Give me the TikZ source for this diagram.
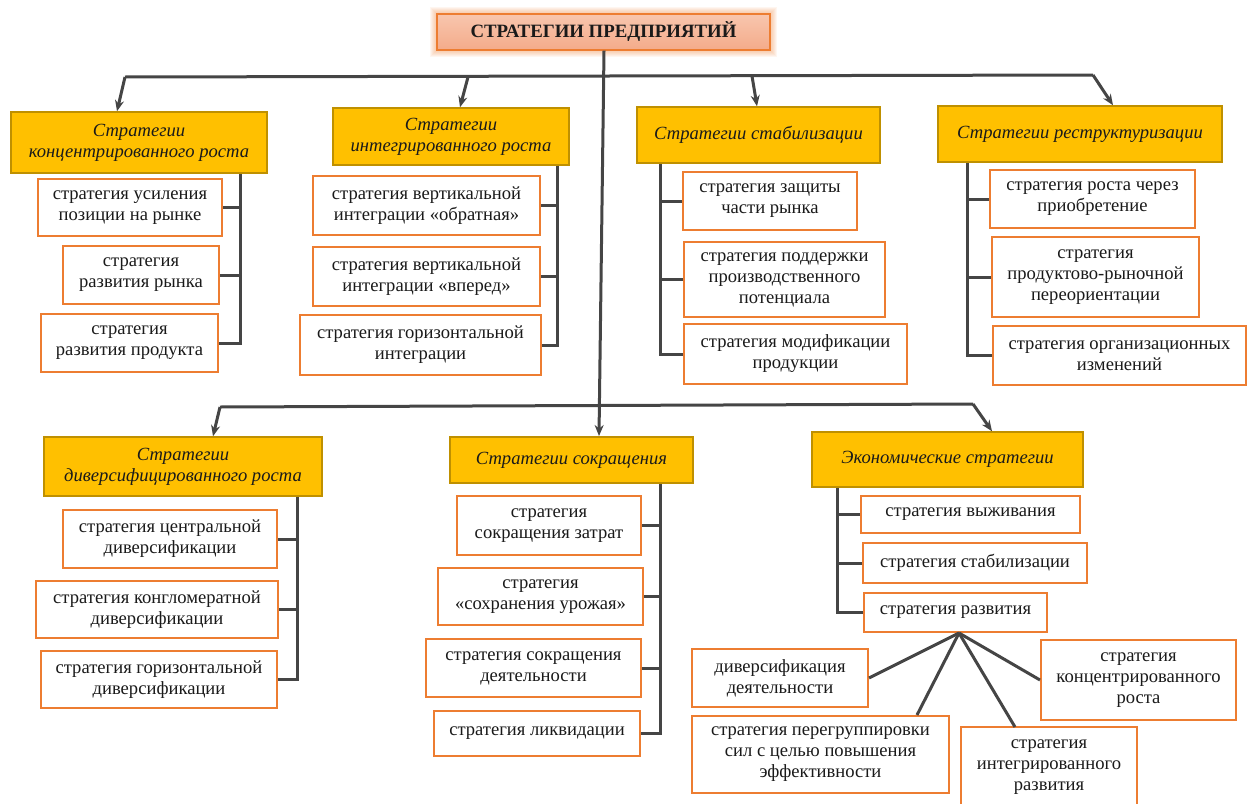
\documentclass[tikz,border=0pt]{standalone}
\usepackage{fontspec}
\setmainfont{Liberation Serif}
\usetikzlibrary{arrows.meta}
\definecolor{hdr}{HTML}{FFC000}
\definecolor{hdrb}{HTML}{BF9000}
\definecolor{orb}{HTML}{ED7D31}
\definecolor{ln}{HTML}{454545}
\definecolor{ttop}{HTML}{F8C6AE}
\definecolor{tbot}{HTML}{F4AB8A}
\definecolor{txt}{HTML}{1A1A1A}
\newcommand\bx[7]{\node[#6, minimum width={#4-#2}, minimum height={#5-#3}] (#1) at ({(#2+#4)/2},{(#3+#5)/2}) {#7};}
\begin{document}
\begin{tikzpicture}[x=1pt,y=-1pt,
  hdrbox/.style={draw=hdrb, fill=hdr, line width=1.5pt, align=center, inner sep=0pt, text=txt, font=\fontsize{18.6}{21}\selectfont\itshape},
  chbox/.style={draw=orb, fill=white, line width=2pt, align=center, inner sep=0pt, text=txt, font=\fontsize{18.6}{21}\selectfont},
  titlebox/.style={draw=orb, line width=1.2pt, top color=ttop, bottom color=tbot, align=center, inner sep=0pt, text=txt, font=\fontsize{18.8}{21}\selectfont\bfseries},
  conn/.style={draw=ln, line width=3pt},
  arr/.style={conn, -{Stealth[length=11pt,width=9pt]}}]
\useasboundingbox (0,0) rectangle (1247,803);
% glow
\foreach \i in {1,...,7}{
  \fill[orb, opacity=0.07] (437-\i,14-\i) rectangle (770+\i,50+\i);
}
\bx{title}{437}{14}{770}{50}{titlebox}{СТРАТЕГИИ ПРЕДПРИЯТИЙ}

% headers top row
\bx{h1}{11}{112}{267}{173}{hdrbox}{Стратегии\\концентрированного роста}
\bx{h2}{333}{108}{569}{165}{hdrbox}{Стратегии\\интегрированного роста}
\bx{h3}{637}{107}{880}{163}{hdrbox}{Стратегии стабилизации}
\bx{h4}{938}{106}{1222}{162}{hdrbox}{Стратегии реструктуризации}
% headers bottom row
\bx{h5}{44}{437}{322}{496}{hdrbox}{Стратегии\\диверсифицированного роста}
\bx{h6}{450}{437}{693}{483}{hdrbox}{Стратегии сокращения}
\bx{h7}{812}{432}{1083}{487}{hdrbox}{Экономические стратегии}

% group 1
\bx{c11}{38}{179}{222}{236}{chbox}{стратегия усиления\\позиции на рынке}
\bx{c12}{63}{246}{219}{304}{chbox}{стратегия\\развития рынка}
\bx{c13}{41}{314}{218}{372}{chbox}{стратегия\\развития продукта}
% group 2
\bx{c21}{313}{176}{540}{235}{chbox}{стратегия вертикальной\\интеграции «обратная»}
\bx{c22}{313}{247}{540}{306}{chbox}{стратегия вертикальной\\интеграции «вперед»}
\bx{c23}{300}{315}{541}{375}{chbox}{стратегия горизонтальной\\интеграции}
% group 3
\bx{c31}{683}{172}{857}{230}{chbox}{стратегия защиты\\части рынка}
\bx{c32}{684}{242}{885}{317}{chbox}{стратегия поддержки\\производственного\\потенциала}
\bx{c33}{684}{324}{907}{384}{chbox}{стратегия модификации\\продукции}
% group 4
\bx{c41}{990}{170}{1195}{228}{chbox}{стратегия роста через\\приобретение}
\bx{c42}{992}{237}{1199}{317}{chbox}{стратегия\\продуктово-рыночной\\переориентации}
\bx{c43}{993}{326}{1246}{385}{chbox}{стратегия организационных\\изменений}
% group 5
\bx{c51}{63}{510}{277}{568}{chbox}{стратегия центральной\\диверсификации}
\bx{c52}{36}{581}{278}{638}{chbox}{стратегия конгломератной\\диверсификации}
\bx{c53}{41}{651}{277}{708}{chbox}{стратегия горизонтальной\\диверсификации}
% group 6
\bx{c61}{457}{496}{641}{555}{chbox}{стратегия\\сокращения затрат}
\bx{c62}{438}{568}{643}{625}{chbox}{стратегия\\«сохранения урожая»}
\bx{c63}{426}{639}{641}{697}{chbox}{стратегия сокращения\\деятельности}
\bx{c64}{434}{711}{640}{756}{chbox}{стратегия ликвидации}
% group 7
\bx{c71}{861}{496}{1080}{533}{chbox}{стратегия выживания}
\bx{c72}{863}{543}{1087}{583}{chbox}{стратегия стабилизации}
\bx{c73}{864}{593}{1047}{632}{chbox}{стратегия развития}
% fan
\bx{d1}{692}{649}{868}{707}{chbox}{диверсификация\\деятельности}
\bx{d2}{692}{716}{949}{793}{chbox}{стратегия перегруппировки\\сил с целью повышения\\эффективности}
\bx{d3}{961}{727}{1137}{808}{chbox}{стратегия\\интегрированного\\развития}
\bx{d4}{1041}{640}{1236}{720}{chbox}{стратегия\\концентрированного\\роста}

% main connectors
\coordinate (tl) at (125,77);
\coordinate (tr) at (1093,75);
\coordinate (t2) at (468,77);
\coordinate (t3) at (752,76);
\coordinate (bl) at (220,407);
\coordinate (br) at (973,404);
\coordinate (trunkbot) at (599,436);
\draw[conn] (tl) -- (tr);
\draw[arr] (title.south -| 604,0) -- (trunkbot);
\draw[arr] (tl) -- (h1.north -| 117,0);
\draw[arr] (t2) -- (h2.north -| 460,0);
\draw[arr] (t3) -- (h3.north -| 757,0);
\draw[arr] (tr) -- (h4.north -| 1113,0);
\draw[conn] (bl) -- (br);
\draw[arr] (bl) -- (h5.north -| 213,0);
\draw[arr] (br) -- (h7.north -| 992,0);

% bracket connectors
\coordinate (v1) at (240,0);
\draw[conn] (h1.south -| v1) -- (v1 |- c13.east) -- (c13.east);
\draw[conn] (c11.east) -- (v1 |- c11.east);
\draw[conn] (c12.east) -- (v1 |- c12.east);

\coordinate (v2) at (557,0);
\draw[conn] (h2.south -| v2) -- (v2 |- c23.east) -- (c23.east);
\draw[conn] (c21.east) -- (v2 |- c21.east);
\draw[conn] (c22.east) -- (v2 |- c22.east);

\coordinate (v3) at (660,0);
\draw[conn] (h3.south -| v3) -- (v3 |- c33.west) -- (c33.west);
\draw[conn] (c31.west) -- (v3 |- c31.west);
\draw[conn] (c32.west) -- (v3 |- c32.west);

\coordinate (v4) at (967,0);
\draw[conn] (h4.south -| v4) -- (v4 |- c43.west) -- (c43.west);
\draw[conn] (c41.west) -- (v4 |- c41.west);
\draw[conn] (c42.west) -- (v4 |- c42.west);

\coordinate (v5) at (297,0);
\draw[conn] (h5.south -| v5) -- (v5 |- c53.east) -- (c53.east);
\draw[conn] (c51.east) -- (v5 |- c51.east);
\draw[conn] (c52.east) -- (v5 |- c52.east);

\coordinate (v6) at (660,0);
\draw[conn] (h6.south -| v6) -- (v6 |- c64.east) -- (c64.east);
\draw[conn] (c61.east) -- (v6 |- c61.east);
\draw[conn] (c62.east) -- (v6 |- c62.east);
\draw[conn] (c63.east) -- (v6 |- c63.east);

\coordinate (v7) at (837,0);
\draw[conn] (h7.south -| v7) -- (v7 |- c73.west) -- (c73.west);
\draw[conn] (c71.west) -- (v7 |- c71.west);
\draw[conn] (c72.west) -- (v7 |- c72.west);

% fan
\coordinate (fan) at (959,633);
\draw[conn] (fan) -- (d1.east);
\draw[conn] (fan) -- (917,715);
\draw[conn] (fan) -- (1015,727);
\draw[conn] (fan) -- (d4.west);
\end{tikzpicture}
\end{document}
